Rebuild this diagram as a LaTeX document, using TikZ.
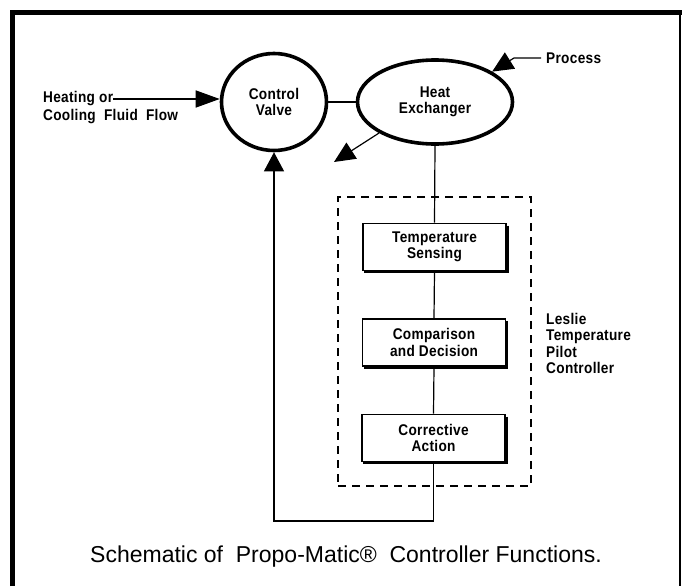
\documentclass[tikz,border=0pt]{standalone}
\usepackage{fontspec}
\setmainfont{Liberation Sans}
\newfontfamily\labfont{Liberation Sans}[FakeStretch=0.88, LetterSpace=2]
\usetikzlibrary{shapes.geometric,arrows.meta}
\begin{document}
\begin{tikzpicture}[x=1pt,y=-1pt,
  lab/.style={font=\labfont\bfseries\fontsize{15.5}{16.3}\selectfont, align=center, inner sep=0pt},
  oval/.style={draw, ellipse, line width=3.6pt, inner sep=0pt, lab},
  fbox/.style={draw, line width=1.8pt, minimum width=143pt, minimum height=47pt, inner sep=0pt, lab},
  tri/.style={-{Triangle[length=24pt,width=17pt]}},
  thinln/.style={line width=1.2pt},
  shadowln/.style={line width=3.6pt, line join=miter}]
\useasboundingbox (0,0) rectangle (682,586);
\fill[white] (0,0) rectangle (682,586);
% frame
\draw[line width=5pt] (12.5,586) -- (12.5,12.5) -- (682,12.5);
\draw[line width=1.5pt] (680,12.5) -- (680,586);

% main ovals
\node[oval, minimum width=105pt, minimum height=97pt] (cv) at (274,102) {Control\\Valve};
\node[oval, minimum width=155pt, minimum height=84pt] (he) at (435,102) {Heat\\Exchanger};
\draw[line width=2pt] (cv.east) -- (he.west);

% heating / cooling input
\node[lab, anchor=base west] (heat) at (43,102) {Heating\ or};
\node[lab, anchor=base west] (cool) at (43,120) {Cooling\ \ Fluid\ \ Flow};
\coordinate (hs) at ([yshift=3pt]heat.base east);
\draw[line width=1.5pt, tri] (hs) -- (cv.west |- hs);

% process input
\node[lab, anchor=west, inner xsep=5pt] (proc) at (541,58) {Process};
\coordinate (pk) at (514,58);
\draw[thinln, -{Triangle[length=21pt,width=19pt]}] (proc.west) -- (pk) -- (he.28);

% output
\coordinate (out) at (334,162);
\draw[thinln, -{Triangle[length=21pt,width=19pt]}] (he.209) -- (out);

% pilot controller box
\node[draw, dash pattern=on 8pt off 6pt, line width=1.4pt, minimum width=193pt, minimum height=289pt, inner sep=0pt] (pilot) at (434.5,341.5) {};
\node[lab, align=left, anchor=west] (les) at (546,343.5) {Leslie\\Temperature\\Pilot\\Controller};

% function blocks
\node[fbox] (ts) at (434.5,247) {Temperature\\Sensing};
\node[fbox] (cd) at (434,342.5) {Comparison\\and Decision};
\node[fbox] (ca) at (433.5,438) {Corrective\\Action};
\foreach \b in {ts,cd,ca}
  \draw[shadowln] ([yshift=-3pt]\b.north east) -- (\b.south east) -- ([xshift=2pt]\b.south west);

\draw[thinln] (he.south) -- (ts.north);
\draw[thinln] (ts.south) -- (cd.north);
\draw[thinln] (cd.south) -- (ca.north);

% feedback
\coordinate (fb) at (274,521);
\draw[thinln, -{Triangle[length=19pt,width=20pt]}] (ca.south) |- (fb) -- (cv.south);

% caption
\node[font=\fontsize{23}{26}\selectfont, inner sep=0pt] (cap) at (346,557) {Schematic of\ \ Propo-Matic®\ \ Controller Functions.};
\end{tikzpicture}
\end{document}
